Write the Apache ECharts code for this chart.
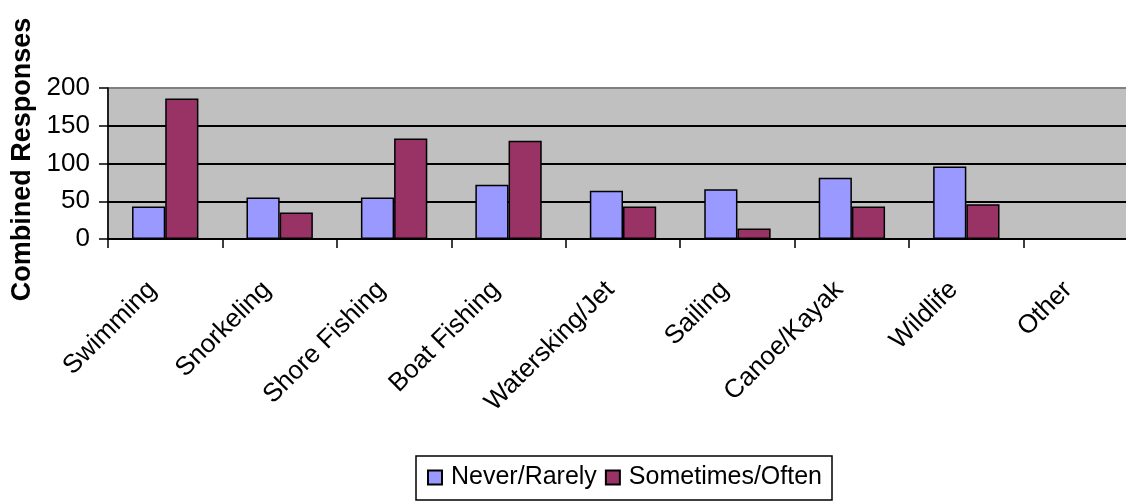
<!DOCTYPE html>
<html>
<head>
<meta charset="utf-8">
<script src="https://cdn.jsdelivr.net/npm/echarts@6/dist/echarts.min.js"></script>
<style>html,body{margin:0;padding:0;background:#fff}#c{width:1126px;height:502px}</style>
</head>
<body>
<div id="c"></div>
<script>
const categories = ['Swimming','Snorkeling','Shore Fishing','Boat Fishing','Watersking/Jet','Sailing','Canoe/Kayak','Wildlife','Other'];
const neverRarely = [43, 55, 55, 72, 64, 66, 81, 96, 0];
const sometimesOften = [186, 35, 133, 130, 43, 14, 43, 46, 0];
const seriesNames = ['Never/Rarely','Sometimes/Often'];
const yTicks = [0, 50, 100, 150, 200];

const font = 'Liberation Sans, Arial, sans-serif';
const chart = echarts.init(document.getElementById('c'));
chart.setOption({
  animation: false,
  grid: {
    left: 108, top: 88, width: 1030, bottom: 263,
    outerBoundsMode: 'none', containLabel: false,
    show: true, backgroundColor: '#C0C0C0', borderColor: '#808080', borderWidth: 2
  },
  legend: {
    left: 416, top: 456,
    itemWidth: 14, itemHeight: 14, itemGap: 8,
    borderColor: '#000', borderWidth: 1.5, padding: [9, 10, 10, 11],
    icon: 'rect',
    textStyle: { fontFamily: font, fontSize: 25, color: '#000', padding: [0, 0, 0, 4] },
    data: seriesNames
  },
  xAxis: {
    type: 'category',
    data: categories,
    axisLine: { lineStyle: { color: '#000', width: 1.5 } },
    axisTick: { show: true, length: 9, lineStyle: { color: '#000', width: 1.5 } },
    axisLabel: { rotate: 45, interval: 0, margin: 34, padding: [0, 18, 0, 0], fontFamily: font, fontSize: 26, color: '#000' }
  },
  yAxis: {
    type: 'value', min: yTicks[0], max: yTicks[yTicks.length - 1], interval: 50,
    name: 'Combined Responses', nameLocation: 'middle', nameRotate: 90, nameGap: 72,
    nameTextStyle: { fontFamily: font, fontSize: 27, fontWeight: 'bold', color: '#000', padding: [0, 0, 0, 8] },
    axisLine: { show: true, lineStyle: { color: '#000', width: 1.5 } },
    axisTick: { show: true, length: 9, lineStyle: { color: '#000', width: 1.5 } },
    axisLabel: { margin: 18, fontFamily: font, fontSize: 26, color: '#000' },
    splitLine: { show: true, lineStyle: { color: ['#000','#000','#000','#000','#808080'], width: 2 } }
  },
  series: [
    { name: seriesNames[0], type: 'bar', data: neverRarely, barGap: '0%', barCategoryGap: '42%',
      itemStyle: { color: '#9999FF', borderColor: '#000', borderWidth: 1.5 } },
    { name: seriesNames[1], type: 'bar', data: sometimesOften,
      itemStyle: { color: '#993366', borderColor: '#000', borderWidth: 1.5 } }
  ]
});
</script>
</body>
</html>
